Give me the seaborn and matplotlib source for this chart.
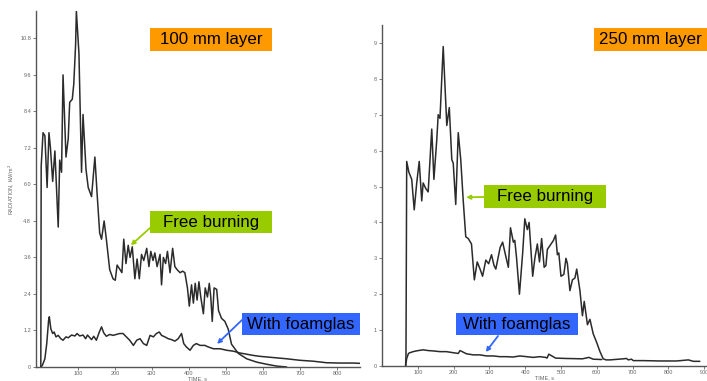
import matplotlib
matplotlib.use("Agg")
import matplotlib.pyplot as plt
import matplotlib.patches as patches
import pandas as pd
import seaborn as sns

# 100 mm layer - free burning (time s, radiation kW/m2)
t100_free = [0, 1, 6, 11, 17, 22, 26, 32, 38, 47, 51, 56, 60, 68, 74, 78, 85, 89, 94, 96,
             103, 110, 114, 122, 128, 137, 146, 152, 159, 164, 171, 177, 186, 195, 201, 206,
             214, 219, 224, 230, 236, 241, 247, 254, 260, 266, 272, 278, 286, 292, 297, 303,
             308, 314, 322, 326, 331, 337, 342, 349, 356, 362, 368, 376, 383, 389, 396, 401,
             407, 412, 417, 422, 427, 432, 439, 444, 450, 455, 459, 463, 468, 475, 480, 488,
             497, 506, 515, 524, 533, 556, 583, 610, 637, 664]
r100_free = [0.0, 6.6, 7.7, 7.6, 5.9, 7.7, 7.2, 6.1, 7.1, 4.6, 6.8, 6.4, 9.6, 6.9, 7.5, 8.7,
             8.8, 9.3, 10.6, 11.7, 10.3, 6.4, 8.3, 6.5, 5.9, 5.6, 6.9, 5.7, 4.4, 4.2, 4.8, 4.2,
             3.2, 2.9, 2.85, 3.35, 3.2, 3.1, 4.2, 3.4, 4.0, 3.6, 3.95, 2.9, 3.55, 2.9, 3.7,
             3.5, 3.9, 3.3, 3.8, 3.5, 3.75, 3.3, 3.7, 2.7, 3.6, 3.4, 3.8, 3.1, 3.9, 3.3, 3.2,
             3.1, 3.15, 3.1, 2.6, 2.0, 2.7, 2.1, 2.75, 2.2, 2.8, 2.3, 1.75, 2.6, 2.3, 2.75,
             2.3, 1.5, 2.6, 2.55, 1.85, 1.6, 1.5, 1.25, 0.75, 0.6, 0.45, 0.27, 0.16, 0.09,
             0.03, 0.0]

# 100 mm layer - with foamglas
t100_foam = [0, 4, 11, 16, 21, 23, 27, 32, 36, 41, 47, 54, 60, 68, 74, 83, 92, 98, 105, 114,
             121, 126, 137, 143, 150, 158, 164, 170, 177, 186, 195, 204, 213, 222, 231, 240,
             250, 259, 268, 277, 286, 295, 304, 312, 320, 326, 335, 344, 353, 362, 371, 380,
             386, 393, 403, 412, 420, 430, 443, 452, 466, 484, 502, 520, 538, 556, 574, 592,
             610, 637, 664, 700, 736, 772, 808, 844, 862]
r100_foam = [0.0, 0.05, 0.27, 0.77, 1.53, 1.65, 1.26, 1.1, 1.15, 0.99, 1.04, 0.93, 0.88,
             0.99, 0.96, 1.05, 1.02, 1.1, 1.02, 1.05, 0.93, 1.05, 0.9, 1.01, 0.88, 1.15, 1.32,
             1.12, 1.01, 1.07, 1.04, 1.07, 1.1, 1.1, 0.99, 0.88, 0.71, 0.88, 0.93, 0.77, 0.71,
             1.04, 0.99, 1.1, 1.15, 1.04, 0.99, 0.93, 0.9, 0.85, 0.93, 1.1, 0.77, 0.66, 0.55,
             0.71, 0.77, 0.71, 0.71, 0.66, 0.6, 0.6, 0.55, 0.52, 0.46, 0.42, 0.38, 0.35, 0.33,
             0.3, 0.27, 0.22, 0.19, 0.14, 0.13, 0.13, 0.12]

# 250 mm layer - free burning
t250_free = [66, 67, 69, 75, 83, 90, 97, 104, 111, 115, 122, 129, 139, 145, 153, 157, 162,
             171, 181, 188, 195, 199, 206, 213, 220, 227, 234, 241, 250, 258, 266, 274, 281,
             290, 298, 306, 313, 318, 325, 330, 337, 346, 353, 359, 367, 371, 376, 384, 393,
             399, 406, 411, 415, 421, 427, 434, 440, 446, 453, 458, 462, 469, 479, 485, 490,
             494, 500, 508, 514, 518, 525, 532, 539, 544, 553, 560, 565, 574, 581, 590, 600,
             609, 618, 626, 637, 674, 683, 688, 697, 702, 730, 777, 823, 856, 870, 888]
r250_free = [0.0, 0.3, 5.7, 5.4, 5.2, 4.35, 5.1, 5.7, 4.6, 5.1, 4.95, 4.85, 6.6, 5.2, 6.3,
             7.0, 6.9, 8.9, 6.7, 7.2, 5.75, 5.65, 4.5, 6.5, 5.75, 4.6, 3.6, 3.55, 3.4, 2.4,
             2.9, 2.7, 2.5, 2.95, 2.85, 3.1, 2.8, 2.7, 3.05, 3.3, 3.45, 3.05, 2.75, 3.85, 3.45,
             3.5, 3.0, 2.0, 3.15, 4.1, 3.8, 4.0, 3.4, 2.5, 3.0, 3.4, 2.9, 3.55, 2.75, 2.8, 3.25,
             3.35, 3.5, 3.65, 3.1, 3.15, 2.5, 2.55, 3.0, 2.85, 2.1, 2.4, 2.45, 2.7, 2.1, 1.4,
             1.8, 1.15, 1.3, 0.9, 0.65, 0.4, 0.2, 0.17, 0.17, 0.2, 0.21, 0.17, 0.19, 0.15, 0.15,
             0.14, 0.14, 0.17, 0.13, 0.13]

# 250 mm layer - with foamglas
t250_foam = [66, 69, 74, 78, 87, 101, 115, 129, 143, 162, 180, 199, 213, 218, 236, 255, 274,
             292, 311, 329, 348, 366, 385, 404, 422, 441, 457, 461, 466, 485, 513, 560, 578,
             590, 614]
r250_foam = [0.0, 0.21, 0.35, 0.37, 0.4, 0.43, 0.45, 0.43, 0.42, 0.4, 0.4, 0.37, 0.35, 0.43,
             0.34, 0.31, 0.31, 0.28, 0.28, 0.26, 0.26, 0.25, 0.28, 0.26, 0.24, 0.26, 0.24,
             0.22, 0.33, 0.22, 0.21, 0.2, 0.24, 0.19, 0.18]

yt100 = [0, 1.2, 2.4, 3.6, 4.8, 6.0, 7.2, 8.4, 9.6, 10.8]
ytl100 = ["0", "1.2", "2.4", "3.6", "4.8", "6.0", "7.2", "8.4", "9.6", "10.8"]
xt100 = [100, 200, 300, 400, 500, 600, 700, 800]
yt250 = [0, 1, 2, 3, 4, 5, 6, 7, 8, 9]
xt250 = [100, 200, 300, 400, 500, 600, 700, 800, 900]

sns.set_style("ticks")
plt.rcParams['font.family'] = ['Liberation Sans', 'DejaVu Sans']

W, H = 707, 381
fig = plt.figure(figsize=(W / 100, H / 100), dpi=100)


def px_axes(x0, y_top, x1, y_bot):
    return fig.add_axes([x0 / W, (H - y_bot) / H, (x1 - x0) / W, (y_bot - y_top) / H])


ax1 = px_axes(36, 11, 360, 367)
ax2 = px_axes(382, 25, 707, 366)

line_kw = dict(color="#2b2b2b", linewidth=1.1, estimator=None, sort=False)

df = pd.DataFrame({"t": t100_free, "r": r100_free})
sns.lineplot(data=df, x="t", y="r", ax=ax1, **line_kw)
df = pd.DataFrame({"t": t100_foam, "r": r100_foam})
sns.lineplot(data=df, x="t", y="r", ax=ax1, **line_kw)
df = pd.DataFrame({"t": t250_free, "r": r250_free})
sns.lineplot(data=df, x="t", y="r", ax=ax2, **line_kw)
df = pd.DataFrame({"t": t250_foam, "r": r250_foam})
sns.lineplot(data=df, x="t", y="r", ax=ax2, **line_kw)

ax1.set_xlim(-13, 862)
ax1.set_ylim(0, 11.7)
ax1.set_yticks(yt100)
ax1.set_yticklabels(ytl100)
ax1.set_xticks(xt100)
ax2.set_xlim(0, 908)
ax2.set_ylim(0, 9.5)
ax2.set_yticks(yt250)
ax2.set_xticks(xt250)

for ax in (ax1, ax2):
    sns.despine(ax=ax)
    for s in ("left", "bottom"):
        ax.spines[s].set_color("#555555")
        ax.spines[s].set_linewidth(1.0)
    ax.tick_params(labelsize=4, colors="#666666", length=2, width=0.6, pad=1.5)
    ax.tick_params(axis="x", pad=0.8)
    ax.set_facecolor("white")
    ax.set_xlabel("TIME, s", fontsize=4, color="#666666", labelpad=0)
    ax.set_ylabel("")
ax1.set_ylabel("RADIATION, kW/m$^2$", fontsize=4, color="#666666", labelpad=3)


def box(x0, y0, x1, y1, color, text):
    rect = patches.Rectangle((x0 / W, (H - y1) / H), (x1 - x0) / W, (y1 - y0) / H,
                             transform=fig.transFigure, facecolor=color,
                             edgecolor="none", zorder=5, clip_on=False)
    fig.add_artist(rect)
    fig.text((x0 + x1) / 2 / W, (H - (y0 + y1) / 2) / H, text, ha="center", va="center",
             fontsize=12.2, color="black", zorder=6)


box(150, 28, 272, 51, "#FF9900", "100 mm layer")
box(594, 28, 707, 51, "#FF9900", "250 mm layer")
box(150, 211, 272, 233, "#99CC00", "Free burning")
box(242, 313, 360, 335, "#3366FF", "With foamglas")
box(484, 185, 606, 208, "#99CC00", "Free burning")
box(456, 313, 578, 335, "#3366FF", "With foamglas")


def arrow(ax, xy, start, color):
    ax.annotate("", xy=xy, xycoords="data", xytext=(start[0], H - start[1]),
                textcoords="figure pixels",
                arrowprops=dict(arrowstyle="-|>", color=color, lw=1.3,
                                mutation_scale=6, shrinkA=0, shrinkB=0))


arrow(ax1, (243, 4.0), (150, 228), "#99CC00")
arrow(ax1, (476, 0.76), (242, 320), "#3366FF")
arrow(ax2, (235, 4.7), (484, 197), "#99CC00")
arrow(ax2, (290, 0.39), (498, 336), "#3366FF")

fig.savefig("out.png", dpi=100, facecolor="white")
